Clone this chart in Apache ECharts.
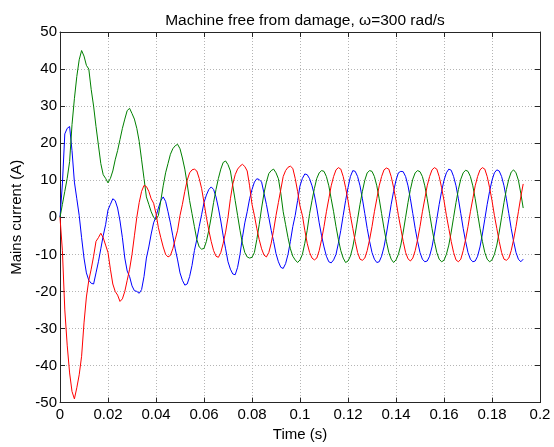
<!DOCTYPE html>
<html>
<head>
<meta charset="utf-8">
<script src="https://cdn.jsdelivr.net/npm/echarts@6/dist/echarts.min.js"></script>
<style>html,body{margin:0;padding:0;background:#fff;}#c{width:554px;height:447px;}</style>
</head>
<body>
<div id="c"></div>
<script>
// sampling step of the recorded signals (s)
const sampleStep = 0.001;
const xTicks = [0, 0.02, 0.04, 0.06, 0.08, 0.1, 0.12, 0.14, 0.16, 0.18, 0.2];
const yTicks = [-50, -40, -30, -20, -10, 0, 10, 20, 30, 40, 50];

// phase currents (A), one value per millisecond, t = 0 .. 0.193 s
const phaseBlue = [
 0, 9, 22.5, 24, 24.5, 18, 9.5, 5, 0.5, -5.5,
 -11, -15, -17, -17.8, -18, -15, -12, -8.5, -5, -2,
 2, 3.5, 5, 4.5, 2.5, -1, -5.5, -11, -14.5, -16,
 -18.5, -19.8, -20, -20.5, -19.5, -16, -11, -8, -4.5, -1.5,
 0.2, 2.5, 4.5, 5.5, 4.3, 1.5, -1.5, -5, -8.5, -11.5,
 -15, -17, -18.3, -18, -16, -13, -9, -6, -2.5, 0.7,
 4, 6, 7.5, 8.2, 7.5, 5.5, 2.5, -1, -5, -8.5,
 -12, -14, -15.3, -15.5, -13.5, -10, -5.5, -1.5, 1.5, 5,
 7.5, 9.5, 10.4, 10.2, 9.5, 6.5, 3.5, 0, -3.5, -6.5,
 -9.8, -12, -13.5, -13.8, -12.5, -10, -6.5, -2.5, 0.5, 4.5,
 8.5, 10.5, 11.7, 11.5, 10.4, 8.5, 6, 2.5, -1.5, -5,
 -8, -10.5, -12, -12.3, -11.5, -10, -7, -3.5, 0.5, 4.5,
 8, 11, 12.6, 12.4, 11, 8.5, 5, 1, -3, -6.5,
 -9.5, -11.3, -12.2, -12, -10.5, -8, -4.5, -0.5, 3.5, 7,
 10, 12, 12.4, 12.3, 11, 8.5, 5, 1, -3, -6.5,
 -9.5, -11.3, -12, -11.8, -10.5, -8, -4.5, -0.5, 3.5, 7,
 10, 12, 13, 12.7, 11, 8.5, 5, 1, -3, -6.5,
 -9.5, -11.3, -12, -11.8, -10.5, -8, -4.5, -0.5, 3.5, 7,
 10, 12, 12.8, 12.5, 11, 8.5, 5, 1, -3, -6.5,
 -9.5, -11.3, -12, -11.3
];
const phaseGreen = [
 0, 3.5, 7, 10.5, 15, 25, 32, 38, 42.5, 45,
 43.5, 41, 40, 34.5, 30, 24.5, 19.5, 14.5, 11.5, 10.5,
 9.3, 10.5, 12.5, 15.5, 18, 21, 24, 26.5, 28.8, 29.4,
 28, 26.5, 24, 20.5, 15.5, 10.5, 5.5, 3.5, 1.5, 0,
 -0.6, 0.5, 4.5, 8.5, 12, 14.5, 17, 18.5, 19.3, 19.7,
 18.5, 16, 13, 9, 4.5, 1, -2.5, -6, -8, -8.6,
 -8.4, -6.5, -3.5, 0, 4, 7.5, 10.5, 13, 14.8, 15.2,
 14.2, 12.5, 8.5, 4.5, 0.5, -3.5, -7, -9.5, -10.7, -11,
 -10.8, -9.5, -6, -2, 2.5, 6.5, 9.5, 11.8, 12.6, 13,
 12, 10.4, 6.5, 1.5, -2, -5.5, -8.5, -10.5, -11.5, -12.2,
 -11.5, -10, -7, -3.5, 1, 4.5, 7.8, 10.5, 12, 12.6,
 12.4, 11, 8.5, 5, 1.5, -2.5, -6, -9, -11, -12.2,
 -11.8, -10.5, -8, -4.5, -0.5, 3.5, 7, 10, 12, 12.6,
 12.4, 11, 8.5, 5, 1, -3, -6.5, -9.5, -11.3, -12.2,
 -11.5, -10, -7.5, -4, 0, 4, 7.5, 10.3, 12, 12.6,
 12.3, 11, 8.5, 5, 1, -3, -6.5, -9.5, -11.3, -12,
 -11.6, -10, -7.5, -4, 0, 4, 7.5, 10.3, 12, 12.7,
 12.4, 11, 8.5, 5, 1, -3, -6.5, -9.5, -11.3, -12,
 -11.5, -10, -7.5, -4, 0, 4, 7.5, 10.3, 12.2, 12.8,
 12, 10, 6.5, 2.5
];
const phaseRed = [
 0, -9, -25, -34.5, -42, -47, -49, -46, -42.5, -37.5,
 -28.5, -21.5, -17, -14, -10.5, -6.5, -5.5, -4.3, -5.5, -7.5,
 -9.5, -14, -18, -20, -21, -22.7, -22, -20, -17, -14,
 -10, -5, 0, 4, 7, 8.6, 8.3, 7, 5, 3.8,
 1, -2.8, -5.5, -8, -10, -10.7, -10.3, -8.5, -6, -3.5,
 0.5, 3.5, 7, 10, 12, 12.8, 13, 12.5, 10.5, 7.8,
 4, 0, -3.5, -6.5, -9, -10.5, -10.8, -9.5, -7, -4,
 0, 5, 9, 11.5, 13, 13.8, 14.3, 13.7, 12.5, 8.5,
 3.5, 0.5, -3, -6, -8.5, -10.2, -10.7, -9.5, -7, -3.5,
 0.5, 4, 7.5, 11, 12.6, 13.5, 13.8, 13.2, 10.5, 7,
 3, 0.5, -3.5, -7, -9.5, -11, -11.5, -11, -9, -6,
 -2.5, 1.5, 5, 8.5, 11, 12.8, 13.4, 13, 11, 8,
 4.5, 0.5, -3, -6.5, -9.5, -11.3, -11.6, -11, -9, -6,
 -2.5, 1.5, 5, 8.5, 11, 12.8, 13.3, 13, 11, 8,
 4.5, 0.5, -3, -6.5, -9.5, -11.2, -11.8, -11, -9, -6,
 -2.5, 1.5, 5, 8.5, 11, 12.8, 13.4, 13, 11, 8,
 4.5, 0.5, -3, -6.5, -9.5, -11.5, -12, -11.3, -9, -6,
 -2.5, 1.5, 5, 8.5, 11, 12.8, 13.4, 13, 11, 8,
 4.5, 0.5, -3, -6.5, -9.5, -11.3, -11.6, -11, -9, -6,
 -2.5, 1.5, 5.5, 9
];

const toPairs = arr => arr.map((v, i) => [+(i * sampleStep).toFixed(3), v]);
const FONT = 'Liberation Sans, Arial, Helvetica, sans-serif';

const chart = echarts.init(document.getElementById('c'), null, {renderer: 'canvas'});
const gridLine = {show: true, lineStyle: {color: '#b4b4b4', type: [1, 2], width: 1}};
const boxLine = {show: true, onZero: false, lineStyle: {color: '#262626', width: 1}};
const tickIn = {show: true, inside: true, length: 5, lineStyle: {color: '#262626', width: 1}};

chart.setOption({
  animation: false,
  backgroundColor: '#ffffff',
  title: {
    text: 'Machine free from damage, \u03c9=300 rad/s',
    left: 300, top: 8, textAlign: 'center',
    textStyle: {fontFamily: FONT, fontSize: 15.5, fontWeight: 'normal', color: '#000'}
  },
  grid: {left: 60, right: 14, top: 32, bottom: 37, containLabel: false},
  xAxis: [{
    type: 'value', min: xTicks[0], max: xTicks[xTicks.length - 1], interval: 0.02,
    position: 'bottom',
    name: 'Time (s)', nameLocation: 'middle', nameGap: 21.5,
    nameTextStyle: {fontFamily: FONT, fontSize: 15, color: '#000'},
    axisLine: boxLine, axisTick: tickIn, splitLine: gridLine,
    axisLabel: {fontFamily: FONT, fontSize: 15, color: '#000', margin: 4.5,
      formatter: v => String(parseFloat(v.toFixed(2)))}
  }, {
    type: 'value', min: xTicks[0], max: xTicks[xTicks.length - 1], interval: 0.02,
    position: 'top', axisLine: boxLine, axisTick: tickIn,
    axisLabel: {show: false}, splitLine: {show: false}
  }],
  yAxis: [{
    type: 'value', min: yTicks[0], max: yTicks[yTicks.length - 1], interval: 10,
    position: 'left',
    name: 'Mains current (A)', nameLocation: 'middle', nameGap: 28,
    nameTextStyle: {fontFamily: FONT, fontSize: 15, color: '#000'},
    axisLine: boxLine, axisTick: tickIn, splitLine: gridLine,
    axisLabel: {fontFamily: FONT, fontSize: 15, color: '#000', margin: 3}
  }, {
    type: 'value', min: yTicks[0], max: yTicks[yTicks.length - 1], interval: 10,
    position: 'right', axisLine: boxLine, axisTick: tickIn,
    axisLabel: {show: false}, splitLine: {show: false}
  }],
  series: [
    {type: 'line', data: toPairs(phaseBlue), showSymbol: false, symbol: 'none',
     lineStyle: {color: '#0000ff', width: 1}, itemStyle: {color: '#0000ff'}},
    {type: 'line', data: toPairs(phaseGreen), showSymbol: false, symbol: 'none',
     lineStyle: {color: '#008000', width: 1}, itemStyle: {color: '#008000'}},
    {type: 'line', data: toPairs(phaseRed), showSymbol: false, symbol: 'none',
     lineStyle: {color: '#ff0000', width: 1}, itemStyle: {color: '#ff0000'}}
  ]
});
</script>
</body>
</html>
